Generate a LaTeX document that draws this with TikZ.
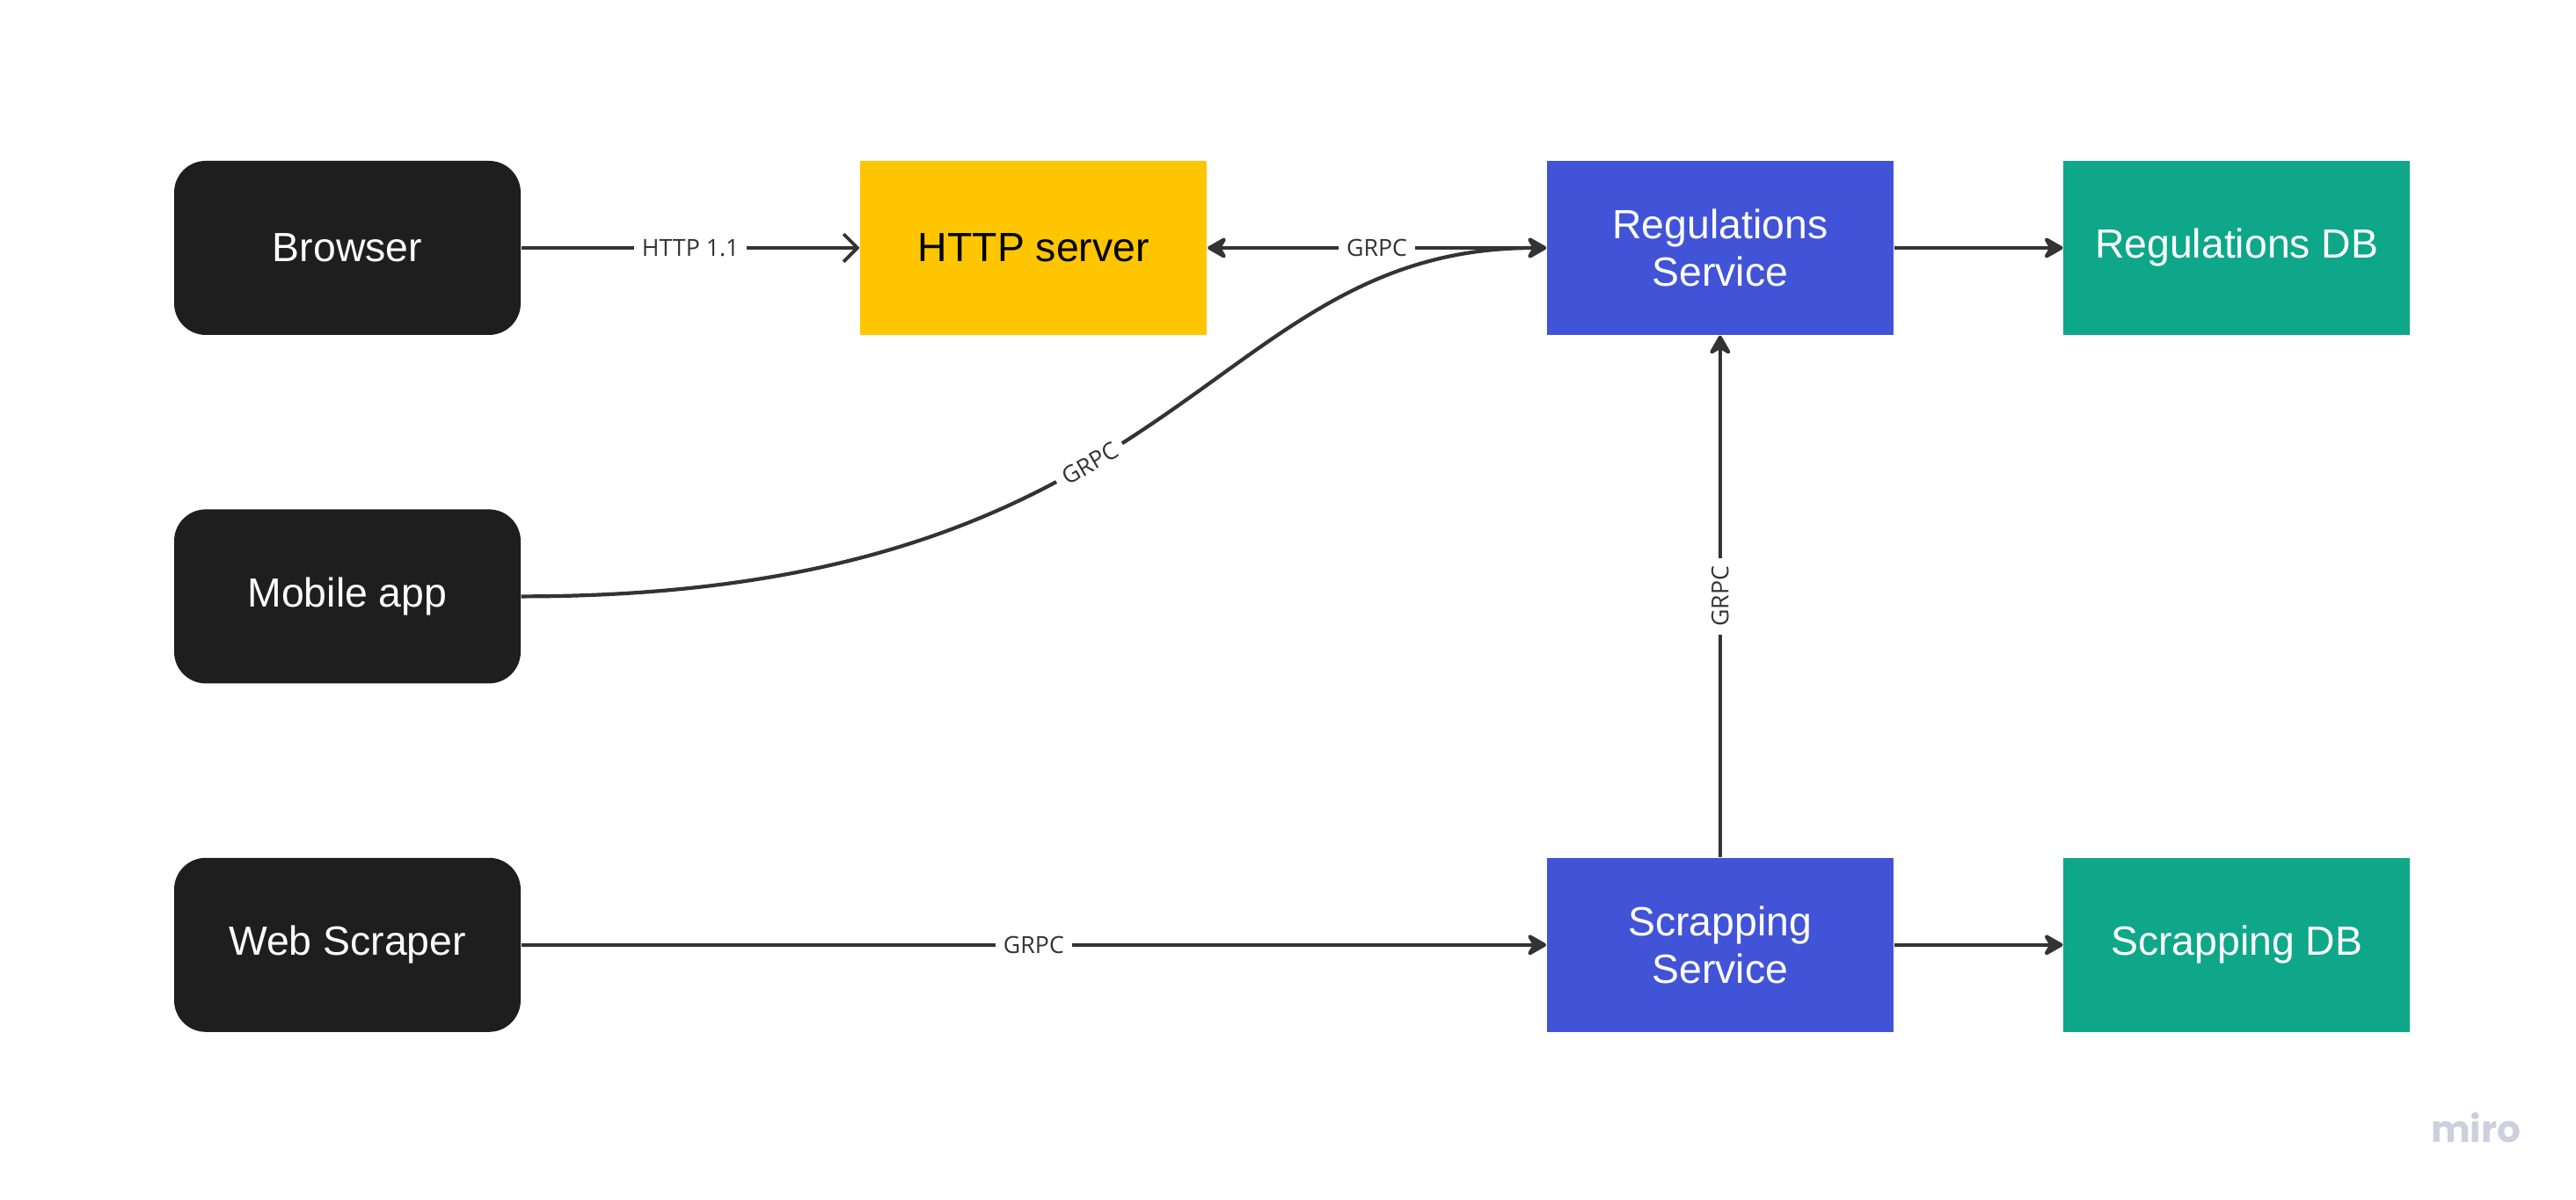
\documentclass[tikz,border=0pt]{standalone}
\usepackage{fontspec}
\setmainfont{Liberation Sans}
\newfontfamily\edgefont{Open Sans}
\newfontfamily\logofont{Poppins}
\usetikzlibrary{arrows.meta, positioning}
\usepackage{xcolor}
\definecolor{clientblack}{RGB}{30, 30, 30}
\definecolor{serveryellow}{RGB}{255, 198, 0}
\definecolor{serviceblue}{RGB}{65, 83, 215}
\definecolor{dbgreen}{RGB}{14, 167, 137}
\definecolor{linegray}{RGB}{51, 51, 51}
\definecolor{logogray}{RGB}{206, 206, 222}

\begin{document}
\begin{tikzpicture}[
    box/.style={rectangle, minimum width=3.94cm, minimum height=1.98cm, inner sep=0pt, align=center, font=\fontsize{13.2}{15.2}\selectfont},
    client/.style={box, fill=clientblack, rounded corners=0.36cm, text=white},
    arrow/.style={-{Stealth[length=7.5pt, width=8.5pt, inset=2.5pt, round]}, line width=1.2pt, draw=linegray},
    lbl/.style={fill=white, inner sep=2.5pt, text=linegray, font=\edgefont\fontsize{7.6}{8.6}\selectfont}
]
\useasboundingbox (0,0) rectangle (29.29,13.65);

\node[client] (browser) at (3.95,10.83) {Browser};
\node[client, below=1.97cm of browser] (mobile) {Mobile app};
\node[client, below=1.97cm of mobile] (scraper) {Web Scraper};
\node[box, fill=serveryellow, right=3.85cm of browser] (http) {HTTP server};
\node[box, fill=serviceblue, text=white, right=3.85cm of http] (regsvc) {Regulations\\Service};
\node[box, fill=dbgreen, text=white, right=1.92cm of regsvc] (regdb) {Regulations DB};
\node[box, fill=serviceblue, text=white] (scrapsvc) at (regsvc |- scraper) {Scrapping\\Service};
\node[box, fill=dbgreen, text=white, right=1.92cm of scrapsvc] (scrapdb) {Scrapping DB};

\draw[line width=1.1pt, draw=linegray, -{Straight Barb[length=4.5pt, width=9pt]}] (browser) -- node[lbl] {HTTP 1.1} (http);
\draw[arrow, {Stealth[length=7.5pt, width=8.5pt, inset=2.5pt, round]}-{Stealth[length=7.5pt, width=8.5pt, inset=2.5pt, round]}] (http) -- node[lbl] {GRPC} (regsvc);
\draw[arrow] (mobile.east) .. controls +(7.6,0) and +(-3.9,0) .. node[lbl, sloped, pos=0.42] {GRPC} (regsvc.west);
\draw[arrow] (scraper) -- node[lbl] {GRPC} (scrapsvc);
\draw[arrow] (scrapsvc) -- node[lbl, sloped] {GRPC} (regsvc);
\draw[arrow] (regsvc) -- (regdb);
\draw[arrow] (scrapsvc) -- (scrapdb);

\node[text=logogray, font=\logofont\bfseries\fontsize{12}{12}\selectfont] (logo) at (28.15,0.82) {miro};

\end{tikzpicture}
\end{document}
